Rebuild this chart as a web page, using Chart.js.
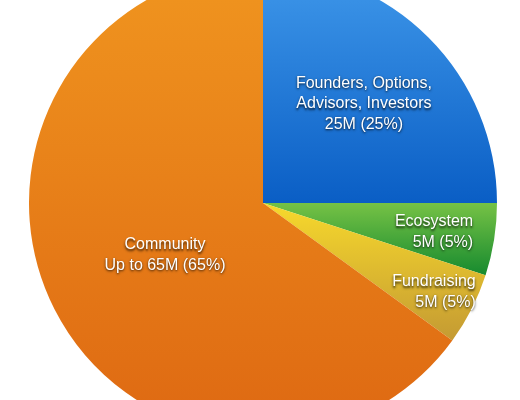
<!DOCTYPE html>
<html>
<head>
<meta charset="utf-8">
<script src="https://cdn.jsdelivr.net/npm/chart.js@4"></script>
<style>
  html, body { margin: 0; padding: 0; background: #fff; overflow: hidden; width: 520px; height: 400px; }
  #wrap { position: absolute; left: 29px; top: -31px; width: 468px; height: 468px; }
</style>
</head>
<body>
<div id="wrap"><canvas id="pieChart" width="468" height="468"></canvas></div>
<script>
// данные графика
const labels = ['Founders, Options,\nAdvisors, Investors', 'Ecosystem', 'Fundraising', 'Community'];
const values = [25, 5, 5, 65];
const valueText = ['25M (25%)', '5M (5%)', '5M (5%)', 'Up to 65M (65%)'];
const topColors = ['#3f98ea', '#76c245', '#f7d92c', '#f0951f'];
const bottomColors = ['#0a5ec5', '#168a2f', '#c49a33', '#de6812'];

// где рисовать подписи (доля радиуса) и выравнивание
const labelDist = [0.61, 0.74, 0.82, 0.47];
const labelAlign = ['center', 'right', 'right', 'center'];

function sliceGradient(context) {
    const chart = context.chart;
    const area = chart.chartArea;
    if (!area) return topColors[context.dataIndex];
    const i = context.dataIndex;
    const cy = (area.top + area.bottom) / 2;
    const r = Math.min(area.right - area.left, area.bottom - area.top) / 2;
    // вертикальный диапазон сектора
    const spans = [[cy - r, cy], [cy, cy + 0.31 * r], [cy, cy + 0.59 * r], [cy - r, cy + r]];
    const g = chart.ctx.createLinearGradient(0, spans[i][0], 0, spans[i][1]);
    g.addColorStop(0, topColors[i]);
    g.addColorStop(1, bottomColors[i]);
    return g;
}

const sliceLabels = {
    id: 'sliceLabels',
    afterDatasetsDraw(chart) {
        const ctx = chart.ctx;
        const meta = chart.getDatasetMeta(0);
        ctx.save();
        ctx.font = '16px "Liberation Sans", Arial, sans-serif';
        ctx.fillStyle = '#ffffff';
        ctx.textBaseline = 'middle';
        ctx.shadowColor = 'rgba(0,0,0,0.85)';
        ctx.shadowBlur = 2.5;
        ctx.shadowOffsetY = 1.5;
        meta.data.forEach((arc, i) => {
            const p = arc.getProps(['x', 'y', 'startAngle', 'endAngle', 'outerRadius'], true);
            const mid = (p.startAngle + p.endAngle) / 2;
            const d = p.outerRadius * labelDist[i];
            const x = p.x + Math.cos(mid) * d;
            const y = p.y + Math.sin(mid) * d + 2;
            const lines = labels[i].split('\n').concat([valueText[i]]);
            const lh = 20.5;
            let x0 = x;
            if (labelAlign[i] === 'right') {
                const w = Math.max(...lines.map(l => ctx.measureText(l).width));
                x0 = x + w / 2;
                ctx.textAlign = 'right';
            } else {
                ctx.textAlign = 'center';
            }
            lines.forEach((l, k) => {
                ctx.fillText(l, x0, y + (k - (lines.length - 1) / 2) * lh);
            });
        });
        ctx.restore();
    }
};

const pieChart = new Chart(document.getElementById('pieChart').getContext('2d'), {
    type: 'pie',
    data: {
        labels: labels,
        datasets: [{
            data: values,
            backgroundColor: sliceGradient,
            borderWidth: 0
        }]
    },
    options: {
        responsive: false,
        animation: false,
        layout: { padding: 0 },
        plugins: {
            legend: { display: false },
            tooltip: { enabled: false }
        }
    },
    plugins: [sliceLabels]
});
</script>
</body>
</html>
